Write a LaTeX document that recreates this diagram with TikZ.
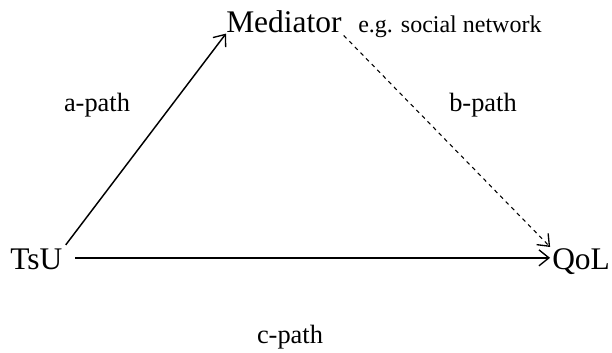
\documentclass[tikz,border=0pt]{standalone}
\usepackage{fontspec}
\setmainfont{Liberation Serif}
\usetikzlibrary{arrows.meta}
\tikzset{
  var/.style={inner sep=0pt, anchor=base west, font=\fontsize{23.6}{28}\selectfont},
  pathlabel/.style={inner sep=0pt, anchor=base, font=\fontsize{19.8}{24}\selectfont},
  note/.style={inner sep=0pt, anchor=base west, font=\fontsize{18}{22}\selectfont},
  barb/.tip={Straight Barb[length=7.5pt,width=12pt,line width=1pt]}
}
\begin{document}
\begin{tikzpicture}[x=0.75pt, y=-0.75pt]
            \useasboundingbox (0,0) rectangle (612,353);
            \node (tsu) [var] at (10,270) {TsU};
            \node (qol) [var] at (552,270) {QoL};
            \node (med) [var] at (226,33) {Mediator};
            \node (eg) [note] at (358,33) {e.g. social network};
            \node (apath) [pathlabel] at (97,112) {a-path};
            \node (bpath) [pathlabel] at (483,112) {b-path};
            \node (cpath) [pathlabel] at (290,344) {c-path};
            \coordinate (cstart) at ([yshift=1.5pt]tsu.east);

            \draw [-barb, line width=1.1pt, shorten <=4pt] (tsu.north east) -- (med.south west);
            \draw [-barb, line width=0.8pt, dashed, shorten <=2pt, shorten >=2pt] (med.south east) -- (qol.north west);
            \draw [-barb, line width=1.8pt, shorten <=9.5pt, shorten >=1.5pt] (cstart) -- (cstart -| qol.west);
        \end{tikzpicture}
\end{document}
